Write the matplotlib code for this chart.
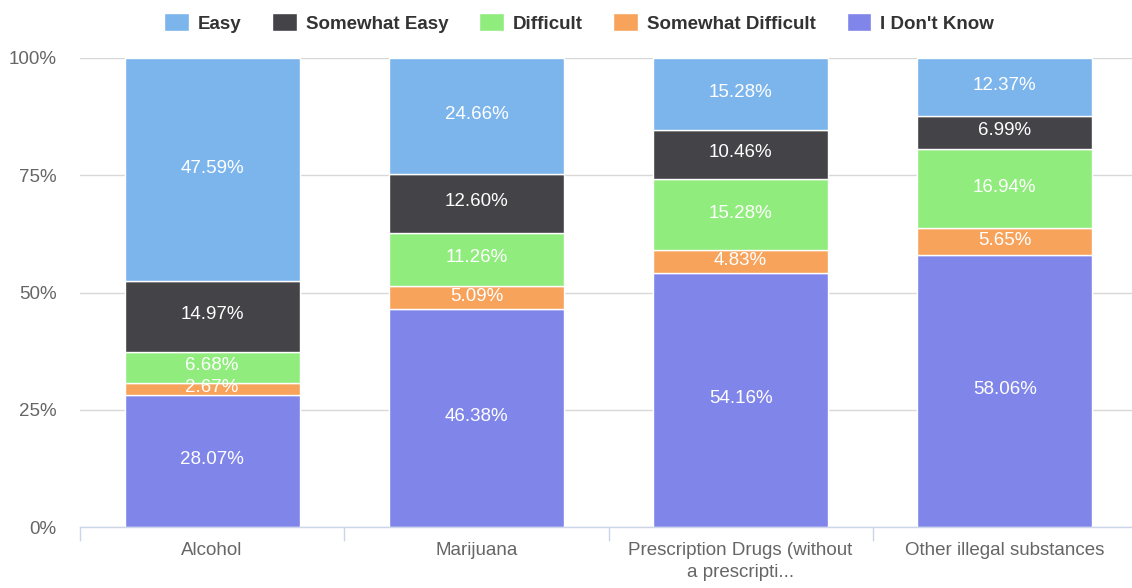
import matplotlib
matplotlib.use("Agg")
import matplotlib.pyplot as plt
import numpy as np

categories = ["Alcohol", "Marijuana", "Prescription Drugs (without\na prescripti...", "Other illegal substances"]
series_names = ["Easy", "Somewhat Easy", "Difficult", "Somewhat Difficult", "I Don't Know"]
easy = [47.59, 24.66, 15.28, 12.37]
somewhat_easy = [14.97, 12.60, 10.46, 6.99]
difficult = [6.68, 11.26, 15.28, 16.94]
somewhat_difficult = [2.67, 5.09, 4.83, 5.65]
dont_know = [28.07, 46.38, 54.16, 58.06]
y_ticks = [0, 25, 50, 75, 100]
y_tick_labels = ["0%", "25%", "50%", "75%", "100%"]

colors = {"Easy": "#7cb5ec", "Somewhat Easy": "#434348", "Difficult": "#90ed7d",
          "Somewhat Difficult": "#f7a35c", "I Don't Know": "#8085e9"}

plt.rcParams['font.family'] = ['Liberation Sans', 'DejaVu Sans']

fig = plt.figure(figsize=(11.32, 5.88), dpi=100)
ax = fig.add_axes([80/1132, 1-527/588, 1057/1132, 469/588])

x = np.arange(len(categories))
stack_order = [("I Don't Know", dont_know), ("Somewhat Difficult", somewhat_difficult),
               ("Difficult", difficult), ("Somewhat Easy", somewhat_easy), ("Easy", easy)]
bottom = np.zeros(len(categories))
handles = {}
for name, vals in stack_order:
    vals = np.array(vals)
    bars = ax.bar(x, vals, bottom=bottom, width=0.662, color=colors[name],
                  edgecolor="white", linewidth=1.0, label=name, zorder=3)
    handles[name] = bars
    for xi, b, v in zip(x, bottom, vals):
        ax.text(xi, b + v/2 + 0.3, f"{v:.2f}%", ha="center", va="center",
                color="white", fontsize=13.5, zorder=4)
    bottom = bottom + vals

ax.set_xlim(-0.5, len(categories) - 0.5)
ax.set_ylim(0, 100)
ax.set_yticks(y_ticks)
ax.set_yticklabels(y_tick_labels)
ax.tick_params(axis="y", length=0, pad=17, labelsize=13.5, labelcolor="#666666")
ax.set_xticks(x)
ax.set_xticklabels(categories, linespacing=1.35)
ax.tick_params(axis="x", which="major", length=0, pad=11, labelsize=13.5, labelcolor="#666666")
ax.set_xticks(np.arange(-0.5, len(categories), 1.0), minor=True)
ax.tick_params(axis="x", which="minor", length=10, width=1, color="#ccd6eb")
ax.yaxis.grid(True, color="#d8d8d8", linewidth=1, zorder=0)
ax.set_axisbelow(True)
for s in ["top", "right", "left"]:
    ax.spines[s].set_visible(False)
ax.spines["bottom"].set_color("#ccd6eb")
ax.spines["bottom"].set_linewidth(1)
ax.spines["bottom"].set_zorder(5)

leg = fig.legend([handles[n] for n in series_names], series_names, loc="upper center",
                 bbox_to_anchor=(0.5115, 1.006), ncol=5, frameon=False,
                 prop={"weight": "bold", "size": 13.5}, handlelength=1.33,
                 handleheight=1.1, handletextpad=0.45, columnspacing=1.65)
for t in leg.get_texts():
    t.set_color("#333333")

fig.savefig("out.png", dpi=100)
